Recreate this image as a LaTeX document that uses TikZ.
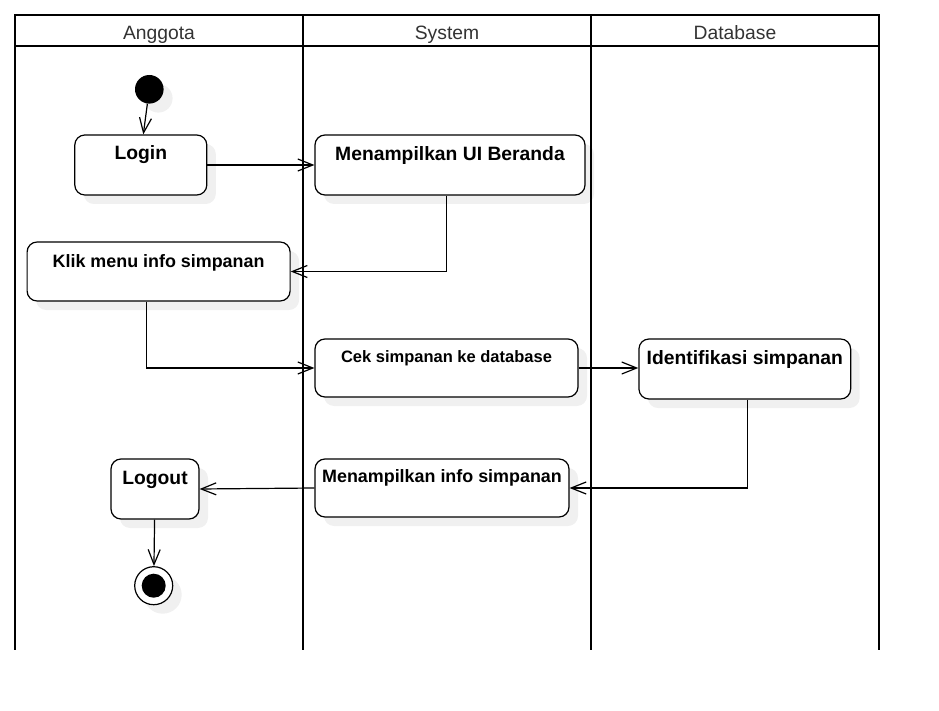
\documentclass[tikz,border=0pt]{standalone}
\usepackage{fontspec}
\setmainfont{Liberation Sans}
\usetikzlibrary{arrows.meta,shadows}

\tikzset{
  shade box/.style={drop shadow={shadow xshift=9pt, shadow yshift=-9pt, fill=black!6, opacity=1}},
  action/.style={draw, line width=1.2pt, rounded corners=10pt, fill=white,
    minimum width=#1, minimum height=60pt, inner sep=0pt, shade box},
  txt/.style={font=\bfseries\fontsize{19.3}{23}\selectfont, anchor=base, inner sep=0pt, yshift=-26pt},
  txtsmall/.style={txt, font=\bfseries\fontsize{17.9}{21}\selectfont},
  head/.style={font=\fontsize{19.3}{23}\selectfont, text=black!80, anchor=base, inner sep=0pt},
  flow/.style={line width=1.2pt, -{Straight Barb[length=15pt,width=12pt,line width=1.2pt]}},
  lane/.style={line width=2.7pt}
}

\begin{document}
\begin{tikzpicture}[x=1pt,y=-1pt]
\useasboundingbox (0,0) rectangle (939,711);

% nodes
\node[circle, fill=black, minimum size=28.6pt, inner sep=0pt, shade box] (start) at (149.3,89.3) {};
\node[action=132pt, label={[txt,yshift=0.5pt]north:Login}] (login) at (140.8,165) {};
\node[action=270pt, label={[txt]north:Menampilkan UI Beranda}] (mub) at (450,165) {};
\node[action=263pt, minimum height=59pt, label={[txtsmall]north:Klik menu info simpanan}] (klik) at (158.6,271.5) {};
\node[action=263pt, minimum height=58pt, label={[txt, font=\bfseries\fontsize{16.5}{20}\selectfont, yshift=2.3pt]north:Cek simpanan ke database}] (cek) at (446.5,368) {};
\node[action=211.7pt, label={[txt]north:Identifikasi simpanan}] (ident) at (744.8,369) {};
\node[action=254pt, minimum height=58pt, label={[txtsmall, yshift=1.7pt]north:Menampilkan info simpanan}] (mis) at (442,488) {};
\node[action=88pt, label={[txt,yshift=-0.3pt]north:Logout}] (logout) at (155,489) {};
\node[circle, draw, line width=1.2pt, fill=white, minimum size=38pt, inner sep=0pt, shade box] (stop) at (153.7,585.7) {};
\node[circle, fill=black, minimum size=24pt, inner sep=0pt] (stopin) at (stop) {};

% connectors
\draw[flow] (start) -- ([xshift=2.5pt]login.north);
\draw[flow] (login) -- (mub);
\draw[flow] ([xshift=-3.3pt]mub.south) |- (klik.east);
\draw[flow] ([xshift=-12pt]klik.south) |- (cek.west);
\draw[flow] (cek.east) -- (cek.east -| ident.west);
\draw[flow] ([xshift=2.5pt]ident.south) |- (mis.east);
\draw[flow] (mis.west) -- (logout.east);
\draw[flow] (logout) -- (stop);

% swimlanes
\foreach \x in {15,303,591,879}
  \draw[lane] (\x,15) -- (\x,650);
\draw[lane, line cap=rect] (15,15) -- (879,15);
\draw[lane] (15,46) -- (879,46);
\node[head] (hanggota) at (159,39.3) {Anggota};
\node[head] (hsystem) at (447,39.3) {System};
\node[head] (hdatabase) at (735,39.3) {Database};
\end{tikzpicture}
\end{document}
